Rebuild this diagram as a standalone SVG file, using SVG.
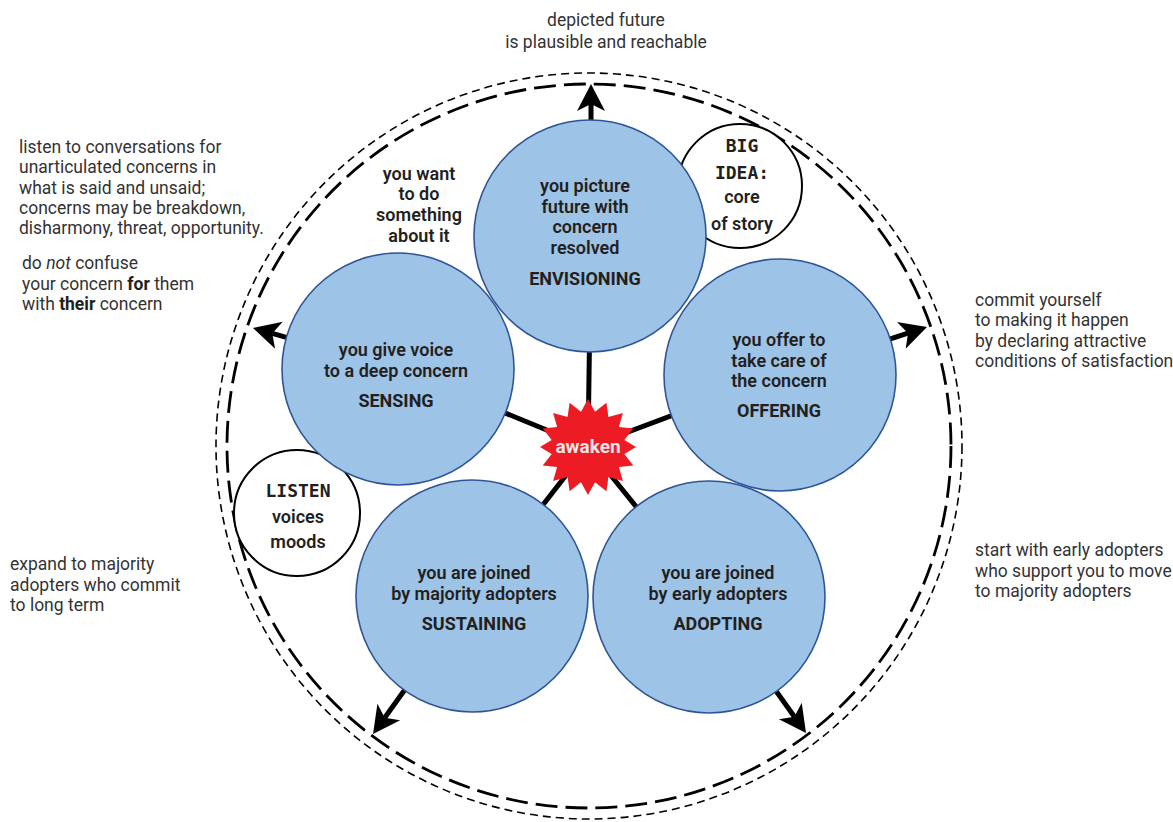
<svg xmlns="http://www.w3.org/2000/svg" width="1173" height="822" viewBox="0 0 1173 822">
<defs>
<style>
.note{font-family:Roboto,"Noto Sans",sans-serif;font-size:17.5px;fill:#333}
.lbl{font-family:Roboto,"Noto Sans",sans-serif;font-size:18px;font-weight:600;fill:#231F20;text-anchor:middle}
.cap{font-weight:700}
.mono{font-family:"DejaVu Sans Mono","Liberation Mono",monospace;font-weight:700;font-size:18px}
.bub{fill:#9DC3E6;stroke:#2F5597;stroke-width:1.6}
.help{fill:#fff;stroke:#000;stroke-width:2}
.spoke{stroke:#000;stroke-width:5;fill:none}
.arr{stroke:#000;stroke-width:5;fill:none;marker-end:url(#ah)}
</style>
<marker id="ah" markerUnits="userSpaceOnUse" viewBox="0 0 30 30" markerWidth="30" markerHeight="30" refX="7" refY="15" orient="auto">
<path d="M27,15 L0,1 L7,15 L0,29 Z" fill="#000"/>
</marker>
</defs>
<rect width="1173" height="822" fill="#fff"/>

<g id="frame" fill="none" stroke="#000">
<circle cx="589" cy="446" r="373" stroke-width="1.6" stroke-dasharray="8 5"/>
<circle cx="589" cy="446" r="362" stroke-width="2.8" stroke-dasharray="22 8"/>
</g>

<g id="bigidea">
<circle class="help" cx="740" cy="186" r="62"/>
<text class="lbl mono" x="742" y="152">BIG</text>
<text class="lbl mono" x="742" y="179">IDEA:</text>
<text class="lbl" x="742" y="203">core</text>
<text class="lbl" x="742" y="230">of story</text>
</g>

<g id="listen">
<circle class="help" cx="297" cy="513" r="63"/>
<text class="lbl mono" x="298" y="497">LISTEN</text>
<text class="lbl" x="298" y="523">voices</text>
<text class="lbl" x="298" y="548">moods</text>
</g>

<g id="connectors">
<line class="spoke" x1="588" y1="447" x2="591" y2="236"/>
<line class="spoke" x1="588" y1="447" x2="398" y2="369"/>
<line class="spoke" x1="588" y1="447" x2="780" y2="375"/>
<line class="spoke" x1="588" y1="447" x2="709" y2="597"/>
<line class="spoke" x1="588" y1="447" x2="472" y2="596"/>
<line class="arr" x1="591" y1="236" x2="591" y2="104"/>
<line class="arr" x1="780" y1="375" x2="908" y2="333.2"/>
<line class="arr" x1="398" y1="369" x2="272.2" y2="333.4"/>
<line class="arr" x1="709" y1="597" x2="794.4" y2="716.7"/>
<line class="arr" x1="472" y1="596" x2="384.7" y2="717.7"/>
</g>

<g id="envisioning">
<circle class="bub" cx="590" cy="236" r="116"/>
<text class="lbl" x="585" y="192">you picture</text>
<text class="lbl" x="585" y="213">future with</text>
<text class="lbl" x="585" y="233">concern</text>
<text class="lbl" x="585" y="254">resolved</text>
<text class="lbl cap" x="585" y="285">ENVISIONING</text>
</g>

<g id="sensing">
<circle class="bub" cx="398" cy="369" r="116"/>
<text class="lbl" x="396" y="356">you give voice</text>
<text class="lbl" x="396" y="377">to a deep concern</text>
<text class="lbl cap" x="396" y="407">SENSING</text>
</g>

<g id="offering">
<circle class="bub" cx="780" cy="375" r="116"/>
<text class="lbl" x="779" y="346">you offer to</text>
<text class="lbl" x="779" y="367">take care of</text>
<text class="lbl" x="779" y="387">the concern</text>
<text class="lbl cap" x="779" y="417">OFFERING</text>
</g>

<g id="adopting">
<circle class="bub" cx="709" cy="597" r="116"/>
<text class="lbl" x="718" y="579">you are joined</text>
<text class="lbl" x="718" y="600">by early adopters</text>
<text class="lbl cap" x="718" y="630">ADOPTING</text>
</g>

<g id="sustaining">
<circle class="bub" cx="472" cy="596" r="116"/>
<text class="lbl" x="474" y="579">you are joined</text>
<text class="lbl" x="474" y="600">by majority adopters</text>
<text class="lbl cap" x="474" y="630">SUSTAINING</text>
</g>

<g id="awaken">
<polygon fill="#ED1C24" points="588.0,399.0 595.0,411.7 606.4,402.7 608.4,417.0 622.9,413.1 618.9,427.0 633.3,428.6 624.3,440.0 636.0,447.0 624.3,454.0 633.3,465.4 618.9,467.0 622.9,480.9 608.4,477.0 606.4,491.3 595.0,482.3 588.0,495.0 581.0,482.3 569.6,491.3 567.6,477.0 553.1,480.9 557.1,467.0 542.7,465.4 551.7,454.0 540.0,447.0 551.7,440.0 542.7,428.6 557.1,427.0 553.1,413.1 567.6,417.0 569.6,402.7 581.0,411.7"/>
<text class="lbl cap" x="588" y="453" style="fill:#F3E6E6;font-size:19px">awaken</text>
</g>

<g id="want">
<text class="lbl" x="419" y="180">you want</text>
<text class="lbl" x="419" y="200">to do</text>
<text class="lbl" x="419" y="221">something</text>
<text class="lbl" x="419" y="242">about it</text>
</g>

<g id="notes" class="note">
<text x="606" y="26" text-anchor="middle">depicted future</text>
<text x="606" y="48" text-anchor="middle">is plausible and reachable</text>
<text x="19" y="153">listen to conversations for</text>
<text x="19" y="173">unarticulated concerns in</text>
<text x="19" y="194">what is said and unsaid;</text>
<text x="19" y="214">concerns may be breakdown,</text>
<text x="19" y="234">disharmony, threat, opportunity.</text>
<text x="22" y="269">do <tspan font-style="italic">not</tspan> confuse</text>
<text x="22" y="290">your concern <tspan font-weight="700" fill="#231F20">for</tspan> them</text>
<text x="22" y="310">with <tspan font-weight="700" fill="#231F20">their</tspan> concern</text>
<text x="975" y="306">commit yourself</text>
<text x="975" y="326">to making it happen</text>
<text x="975" y="347">by declaring attractive</text>
<text x="975" y="367">conditions of satisfaction</text>
<text x="975" y="556">start with early adopters</text>
<text x="975" y="577">who support you to move</text>
<text x="975" y="597">to majority adopters</text>
<text x="10" y="570">expand to majority</text>
<text x="10" y="591">adopters who commit</text>
<text x="10" y="611">to long term</text>
</g>
</svg>
